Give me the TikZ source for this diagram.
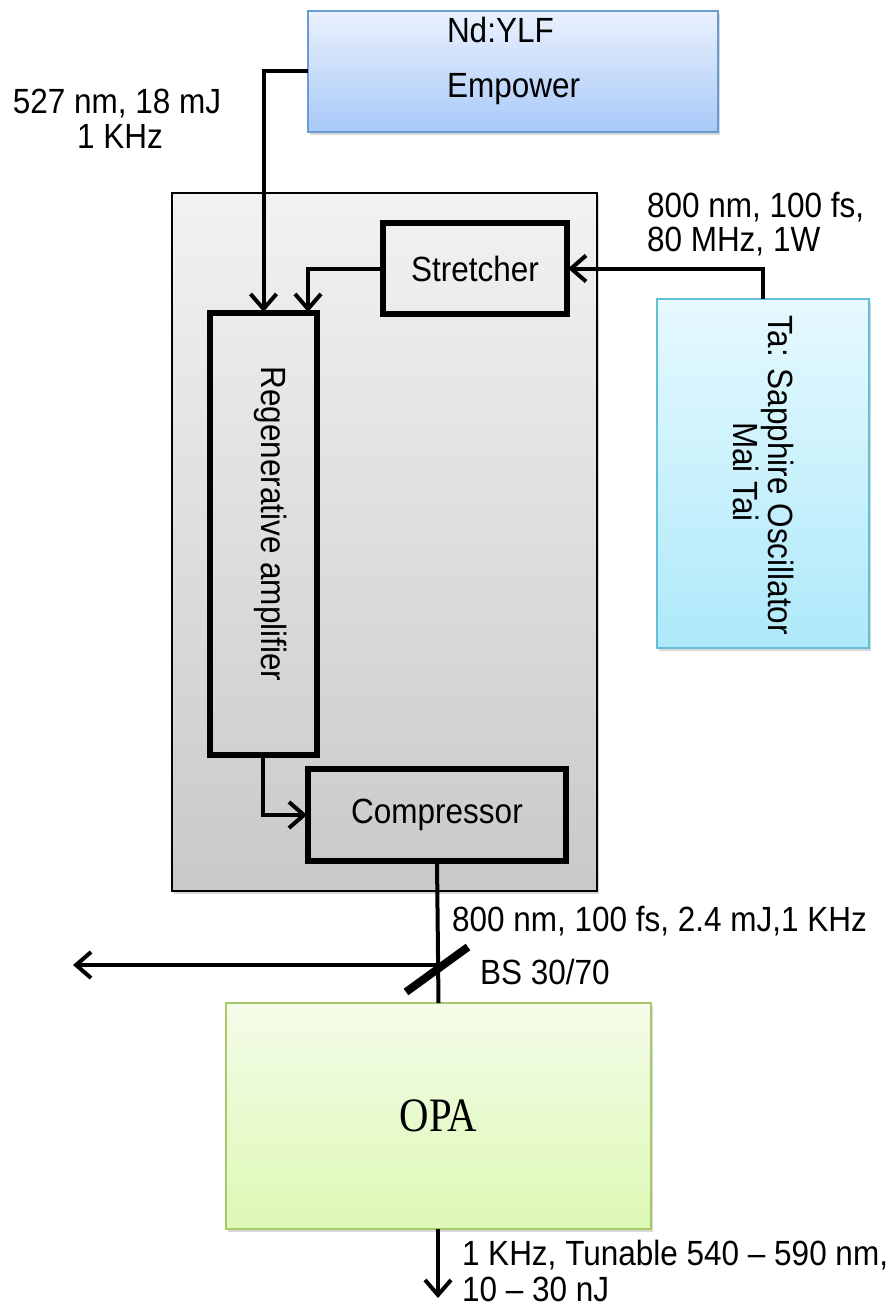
\documentclass[tikz,border=0pt]{standalone}
\usepackage{fontspec}
\setmainfont{Liberation Sans}[FakeStretch=0.9]
\newfontfamily\opafont{Liberation Serif}[FakeStretch=0.85]
\usetikzlibrary{arrows.meta,shadows}
\definecolor{ndtop}{HTML}{EAF1FD}
\definecolor{ndbot}{HTML}{A8C9F8}
\definecolor{nddraw}{HTML}{6B9BD1}
\definecolor{osctop}{HTML}{E6F9FE}
\definecolor{oscbot}{HTML}{AEE9FA}
\definecolor{oscdraw}{HTML}{63BFD6}
\definecolor{opatop}{HTML}{F4FCE9}
\definecolor{opabot}{HTML}{DDF8B4}
\definecolor{opadraw}{HTML}{A6C96A}
\definecolor{amptop}{HTML}{F2F2F2}
\definecolor{ampbot}{HTML}{C9C9C9}
\begin{document}
\begin{tikzpicture}[x=1pt,y=-1pt,
  every node/.style={font=\fontsize{35}{40}\selectfont, inner sep=0pt, outer sep=0pt},
  shad/.style={drop shadow={opacity=0.3,shadow xshift=2pt,shadow yshift=-3pt}},
  thickbox/.style={draw=black, line width=5.5pt, rectangle},
  colbox/.style={rectangle, line width=2pt, shad},
  arr/.style={line width=4pt, -{Straight Barb[length=15pt,width=26pt,line width=4pt]}},
  beam/.style={line width=4pt},
  lbl/.style={anchor=base west},
  clbl/.style={anchor=base},
  vlbl/.style={anchor=base, rotate=-90},
]
\path[use as bounding box, fill=white] (0,0) rectangle (893,1306);

% housing of the amplifier
\node[shad, draw=black, line width=1.5pt, top color=amptop, bottom color=ampbot,
      minimum width=425pt, minimum height=698pt] (amp) at (384.5,542) {};

% pump laser
\node[colbox, draw=nddraw, top color=ndtop, bottom color=ndbot,
      minimum width=410pt, minimum height=121pt] (nd) at (513,71.5) {};
\node[lbl] (ndt1) at (447,43) {Nd:YLF};
\node[lbl] (ndt2) at (447,97) {Empower};

% oscillator
\node[colbox, draw=oscdraw, top color=osctop, bottom color=oscbot,
      minimum width=212pt, minimum height=349pt] (osc) at (763,473.5) {};
\node[vlbl] (osct1) at (768,475) {Ta: Sapphire Oscillator};
\node[vlbl] (osct2) at (733,472) {Mai Tai};

% inner blocks
\node[thickbox, minimum width=184pt, minimum height=91pt] (str) at (475,268.5) {Stretcher};
\node[thickbox, minimum width=107pt, minimum height=442pt] (regen) at (263.5,534) {};
\node[vlbl] (regent) at (261,524) {Regenerative amplifier};
\node[thickbox, minimum width=258pt, minimum height=92pt] (comp) at (437,815) {Compressor};

% OPA
\node[colbox, draw=opadraw, top color=opatop, bottom color=opabot,
      minimum width=425pt, minimum height=226pt, font=\opafont\fontsize{48}{54}\selectfont] (opa) at (438.5,1116) {OPA};

% labels
\node[clbl] (l527a) at (117,113) {527 nm, 18 mJ};
\node[clbl] (l527b) at (120,148) {1 KHz};
\node[lbl] (l800a) at (647,217) {800 nm, 100 fs,};
\node[lbl] (l800b) at (647,251) {80 MHz, 1W};
\node[lbl] (lout) at (452,931) {800 nm, 100 fs, 2.4 mJ,1 KHz};
\node[lbl] (lbs) at (480,984) {BS 30/70};
\node[lbl] (lopa1) at (462,1265) {1 KHz, Tunable 540 -- 590 nm,};
\node[lbl] (lopa2) at (462,1301) {10 -- 30 nJ};

% connectors
\draw[arr] (nd.west) -| ([yshift=1pt]regen.north);
\draw[arr] (str.west) -| ([xshift=44.5pt,yshift=1pt]regen.north);
\draw[arr] (osc.north) |- ([xshift=1pt]str.east);
\draw[arr] ([xshift=-0.5pt]regen.south) |- ([xshift=-1pt]comp.west);
\draw[beam] (comp.south) -- (opa.north);
\coordinate (bs) at (comp.south |- 0,965);
\coordinate (side) at (73,965);
\draw[arr] (bs) -- (side);
\draw[line width=8pt] (406,992) -- (468,947);
\coordinate (down) at (438,1298);
\draw[arr] (opa.south -| down) -- (down);
\end{tikzpicture}
\end{document}
